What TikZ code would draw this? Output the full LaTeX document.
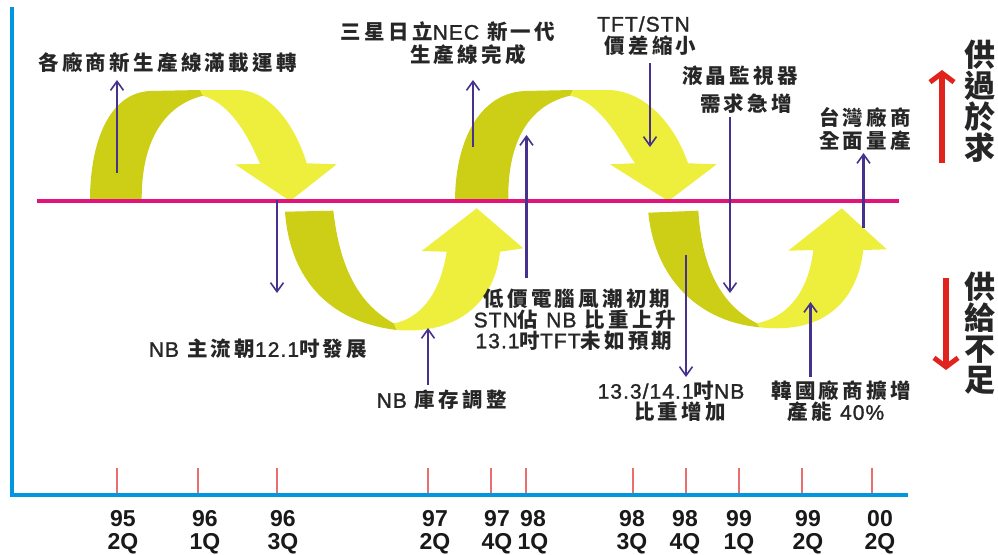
\documentclass[tikz,border=0pt]{standalone}
\usepackage{fontspec}
\setmainfont{Liberation Sans}
\newfontfamily\cjk[LetterSpace=16]{Noto Sans CJK TC}
\newfontfamily\cjkv{Noto Sans CJK TC}
\newfontfamily\latf[LetterSpace=5,FakeBold=1.3]{Liberation Sans}
\newcommand\latn[1]{{\latf\mdseries\fontsize{21}{24}\selectfont #1}}
\usetikzlibrary{arrows.meta}
\definecolor{olivey}{RGB}{204,207,22}
\definecolor{lemon}{RGB}{238,238,60}
\definecolor{magline}{RGB}{225,20,125}
\definecolor{axisblue}{RGB}{0,150,224}
\definecolor{tickred}{RGB}{235,110,110}
\definecolor{ptrcol}{RGB}{70,50,140}
\definecolor{supred}{RGB}{225,35,30}
\tikzset{
  lbl/.style={font=\cjk\bfseries\fontsize{20.5}{24}\selectfont, text=black!85, inner sep=0pt},
  vlbl/.style={font=\cjkv\bfseries\fontsize{31}{31}\selectfont, text=black!85, inner sep=0pt, align=center},
  tlbl/.style={font=\bfseries\fontsize{23}{23}\selectfont, text=black!90, inner sep=0pt},
  ptr/.style={draw=ptrcol, line width=2.6pt, -{Straight Barb[length=9pt,width=13pt,line width=1.6pt]}},
  redarr/.style={draw=supred, line width=6pt, -{Straight Barb[length=9pt,width=24pt,line width=5pt]}},
  tickmark/.style={draw=tickred, line width=2pt},
}
\begin{document}
\begin{tikzpicture}[x=1pt,y=-1pt]
\useasboundingbox (0,0) rectangle (998,554);
\fill[white] (0,0) rectangle (998,554);

% ---- upper arch 1
\fill[olivey] (90,201) -- (141.7,201) .. controls (141,140) and (165,105) .. (203,95.7)
  -- (200,90) -- (150,91) .. controls (110,93) and (90,140) .. (90,201) -- cycle;
\fill[lemon] (200,90) -- (237,90) .. controls (270,90) and (295,125) .. (306.7,163.3)
  -- (336.7,164.3) -- (290,201) -- (235,164.3) -- (260,164)
  .. controls (250,140) and (232,104) .. (203,95.7) -- cycle;

% ---- lower arch 1
\fill[olivey] (285,211.7) -- (333.3,210.7) .. controls (340,270) and (360,305) .. (394,323.5)
  -- (396.7,330) .. controls (330,322) and (290,280) .. (285,211.7) -- cycle;
\fill[lemon] (394,323.5) -- (396.7,330) .. controls (460,335) and (495,300) .. (500,251.7)
  -- (523.3,248.3) -- (476.7,208.3) -- (421.7,251) -- (446.7,251.7)
  .. controls (440,295) and (420,318) .. (394,323.5) -- cycle;

% ---- upper arch 2
\fill[olivey] (455,201.7) -- (508.3,201.7) .. controls (507,140) and (530,105) .. (570,95.7)
  -- (573,90) -- (525,91) .. controls (480,93) and (455,140) .. (455,201.7) -- cycle;
\fill[lemon] (573,90) -- (607,90) .. controls (645,90) and (675,125) .. (688,163.3)
  -- (716.7,164.3) -- (668.3,201) -- (610,164.3) -- (635,163.3)
  .. controls (622,145) and (602,102) .. (570,95.7) -- cycle;

% ---- lower arch 2
\fill[olivey] (648.3,212.7) -- (698.3,210.7) .. controls (702,270) and (722,305) .. (756.7,323.3)
  -- (760,327.3) .. controls (700,322) and (655,280) .. (648.3,212.7) -- cycle;
\fill[lemon] (756.7,323.3) -- (760,327.3) .. controls (830,335) and (858,295) .. (863.3,250)
  -- (886.7,249.3) -- (841.7,208.3) -- (788.3,250.7) -- (813.3,250)
  .. controls (808,295) and (785,318) .. (756.7,323.3) -- cycle;

% ---- balance line
\coordinate (mL) at (37,201);
\coordinate (mR) at (899,201);
\draw[magline, line width=4.5pt] (mL) -- (mR);

% ---- ticks and labels
\foreach \tx/\lx/\ya/\yb [count=\i] in {117.3/123/95/2Q, 197.7/205/96/1Q, 277.3/283/96/3Q,
   428.3/435/97/2Q, 491/497/97/4Q, 526/533/98/1Q, 633.3/632/98/3Q, 685.7/685/98/4Q,
   739/739/99/1Q, 801.7/808/99/2Q, 871.7/880/00/2Q}{
  \coordinate (tt\i) at (\tx,468);
  \coordinate (tb\i) at (\tx,495);
  \draw[tickmark] (tt\i) -- (tb\i);
  \node[tlbl, anchor=base] (ya\i) at (\lx,526.5) {\ya};
  \node[tlbl, anchor=base] (yb\i) at (\lx,549.5) {\yb};
}

% ---- axes
\coordinate (axTop) at (12,7);
\coordinate (axO) at (12,495);
\coordinate (axR) at (908,495);
\draw[axisblue, line width=4pt, line join=miter] (axTop) -- (axO) -- (axR);

% ---- labels
\node[lbl] (L1) at (167.5,62.5) {各廠商新生產線滿載運轉};
\node[lbl] (L2a) at (448,31.7) {三星日立\latn{NEC} 新一代};
\node[lbl] (L2b) at (468,55) {生產線完成};
\node[lbl] (L3a) at (643.5,24) {\latn{TFT/STN}};
\node[lbl] (L3b) at (650.5,46) {價差縮小};
\node[lbl] (L4a) at (740,76) {液晶監視器};
\node[lbl] (L4b) at (746,104) {需求急增};
\node[lbl] (L5a) at (865,117.5) {台灣廠商};
\node[lbl] (L5b) at (865,141) {全面量產};
\node[lbl] (L8) at (258,349) {\latn{NB} 主流朝\latn{12.1}吋發展};
\node[lbl] (L9) at (441.7,400) {\latn{NB} 庫存調整};
\node[lbl] (L10a) at (577,298.5) {低價電腦風潮初期};
\node[lbl] (L10b) at (575,319.5) {\latn{STN}佔 \latn{NB} 比重上升};
\node[lbl] (L10c) at (574,340.5) {\latn{13.1}吋\latn{TFT}未如預期};
\node[lbl] (L11a) at (671,391) {\latn{13.3/14.1}吋\latn{NB}};
\node[lbl] (L11b) at (680,412) {比重增加};
\node[lbl] (L12a) at (841,391) {韓國廠商擴增};
\node[lbl] (L12b) at (836,412) {產能 \latn{40\%}};
\node[vlbl] (V1) at (980,101.5) {供\\過\\於\\求};
\node[vlbl] (V2) at (980,333.4) {供\\給\\不\\足};

% ---- red arrows
\coordinate (r1s) at (942,163);
\coordinate (r1e) at (942,70);
\coordinate (r2s) at (946,278);
\coordinate (r2e) at (946,370);
\draw[redarr] (r1s) -- (r1e);
\draw[redarr] (r2s) -- (r2e);

% ---- pointer arrows
\coordinate (p1s) at (117,173);   \coordinate (p1e) at (117,80);
\coordinate (p2s) at (277,200);   \coordinate (p2e) at (277,293);
\coordinate (p3s) at (428,385);   \coordinate (p3e) at (428,328);
\coordinate (p4s) at (473,147);   \coordinate (p4e) at (473,80);
\coordinate (p5s) at (526.5,278); \coordinate (p5e) at (526.5,135);
\coordinate (p6s) at (650,63);    \coordinate (p6e) at (650,147);
\coordinate (p7s) at (730,117);   \coordinate (p7e) at (730,293);
\coordinate (p8s) at (686,255);   \coordinate (p8e) at (686,377);
\coordinate (p9s) at (810.5,377); \coordinate (p9e) at (810.5,302);
\coordinate (p10s) at (863.5,228); \coordinate (p10e) at (863.5,153);
\foreach \k in {1,...,10}{ \draw[ptr] (p\k s) -- (p\k e); }
\end{tikzpicture}
\end{document}
